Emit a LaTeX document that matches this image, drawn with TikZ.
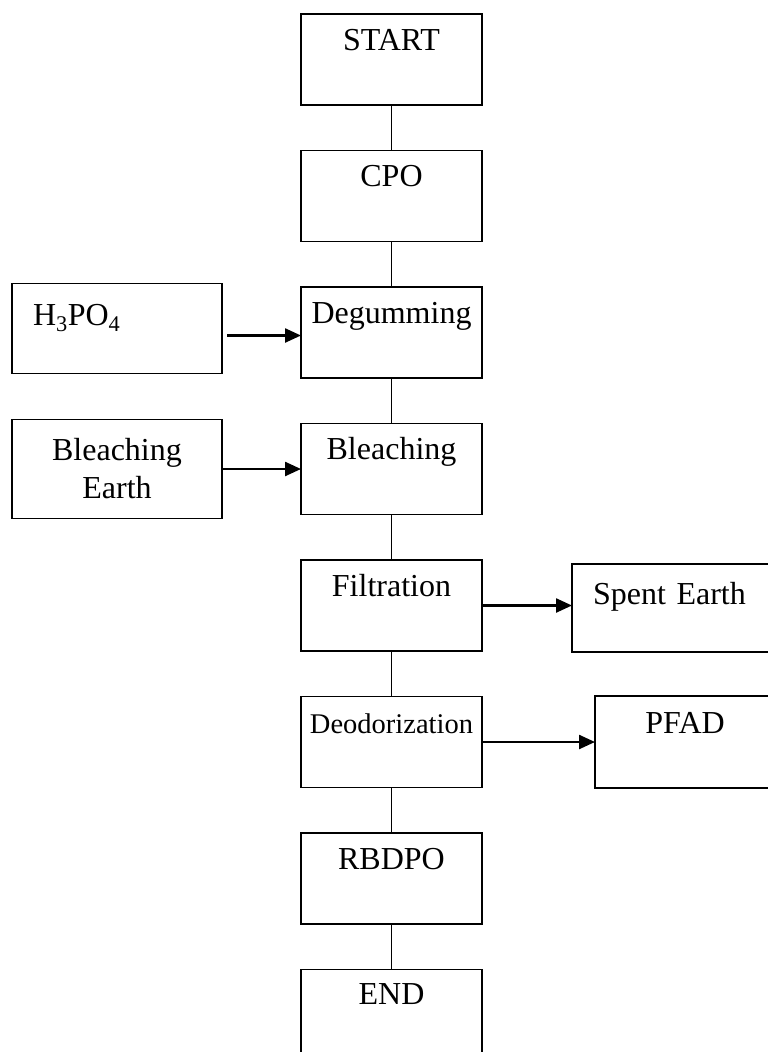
\documentclass[tikz,border=0pt]{standalone}
\usepackage{fontspec}
\setmainfont{Liberation Serif}
\usetikzlibrary{positioning, arrows.meta, calc}
\tikzset{%
  frame/.style={draw, rectangle, line width=1.8pt, inner sep=0pt, outer sep=0pt, font=\fontsize{32}{38}\selectfont},
  stepbox/.style={frame, minimum width=181pt, text height=36pt, text depth=55pt},
  feed/.style={frame, minimum width=210pt},
  edge/.style={line width=1.8pt},
  move/.style={-{Triangle[length=16pt,width=14pt]}, line width=2.4pt}
}
\begin{document}
\begin{tikzpicture}[x=1pt, y=-1pt, node distance=45.5pt]
  \clip (0,0) rectangle (768,1052);

  \node[stepbox] (start) at (391.5,59.5) {START};
  \node[stepbox,below=of start] (cpo) {CPO};
  \node[stepbox,below=of cpo] (degum) {Degumming};
  \node[stepbox,below=of degum] (bleach) {Bleaching};
  \node[stepbox,below=of bleach] (filter) {Filtration};
  \node[stepbox,below=of filter,font=\fontsize{28.5}{34}\selectfont,text height=37pt,text depth=54pt] (deodor) {Deodorization};
  \node[stepbox,below=of deodor] (rbdpo) {RBDPO};
  \node[stepbox,below=of rbdpo,text height=35pt,text depth=56pt] (stop) {END};

  \node[feed,text width=168pt,inner xsep=21pt,align=left,text height=42pt,text depth=48pt,left=79pt of degum,yshift=4pt] (acid) {H\textsubscript{3}PO\textsubscript{4}};
  \node[feed,minimum height=99pt,align=center,left=79pt of bleach] (earth) {Bleaching\\Earth};
  \node[frame,minimum width=220pt,text width=178pt,inner xsep=21pt,align=left,text height=40pt,text depth=48pt,right=90pt of filter,yshift=-2.5pt] (spent) {Spent Earth};
  \node[stepbox,minimum width=180pt,text height=37pt,text depth=55pt,right=113pt of deodor] (pfad) {PFAD};

  \draw[edge] (start) to (cpo);
  \draw[edge] (cpo) to (degum);
  \draw[edge] (degum) to (bleach);
  \draw[edge] (bleach) to (filter);
  \draw[edge] (filter) to (deodor);
  \draw[edge] (deodor) to (rbdpo);
  \draw[edge] (rbdpo) to (stop);

  \draw[move] ([shift={(5pt,-7pt)}]acid.east) -- ([yshift=-7pt]acid.east -| degum.west);
  \draw[move] (earth) -- (bleach);
  \draw[move] (filter.east) -- (filter.east -| spent.west);
  \draw[move] (deodor) -- (pfad);
\end{tikzpicture}
\end{document}
